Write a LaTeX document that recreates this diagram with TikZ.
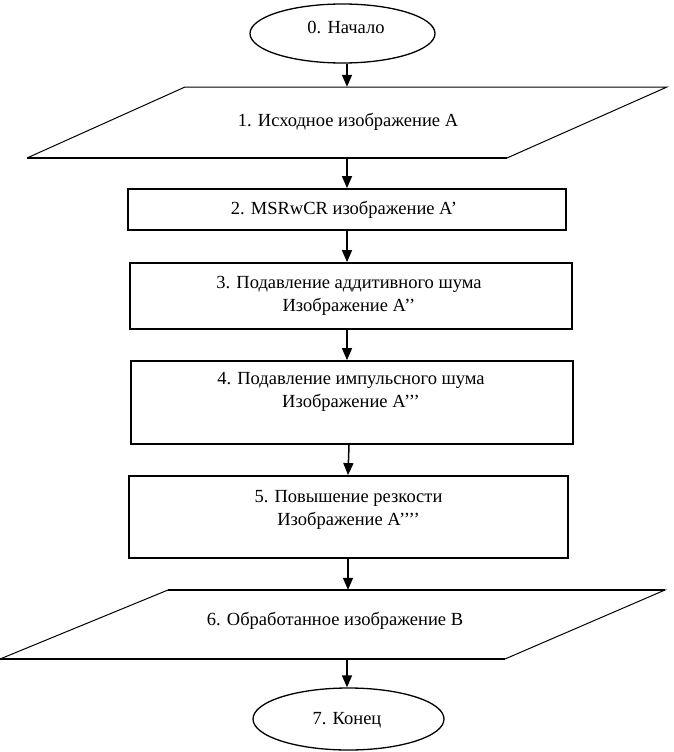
\documentclass[tikz,border=0pt]{standalone}
\usepackage{fontspec}
\setmainfont{Liberation Serif}
\usetikzlibrary{shapes.geometric,arrows.meta}
\tikzset{
  x=1pt,y=-1pt,
  txt/.style={font=\fontsize{18.5}{23}\selectfont, align=center, inner sep=0pt},
  term/.style={ellipse, draw, line width=1.3pt, inner sep=0pt, txt},
  procbox/.style={draw, line width=1.8pt, rectangle, inner sep=0pt, txt},
  ionode/.style={rectangle, inner sep=0pt, txt},
  flow/.style={line width=1.5pt, -{Triangle[length=12pt,width=10pt]}},
}
\begin{document}
\begin{tikzpicture}
\useasboundingbox (0,0) rectangle (673,752);
% 0
\node[term, minimum width=185, minimum height=59] (n0) at (342.5,33.5) {};
\node[txt] at (346,27) {0. Начало};
% 1
\node[ionode, minimum width=480, minimum height=71] (n1) at (347,122.5) {};
\node[txt] at (348,122) {1. Исходное изображение А};
\draw[line width=1pt] (27,158) -- (185,87) -- (667,87) -- (507,158);
\draw[line width=1.8pt] (27,158) -- (507,158);
% 2
\node[procbox, minimum width=438, minimum height=41] (n2) at (347,209.5) {};
\node[txt] at (344,210) {2. MSRwCR изображение А’};
% 3
\node[procbox, minimum width=442, minimum height=66] (n3) at (351,296) {};
\node[txt, anchor=north] at (n3.north) [yshift=-14pt,xshift=-2pt] {3. Подавление аддитивного шума\\Изображение А’’};
% 4
\node[procbox, minimum width=442, minimum height=83] (n4) at (352,402.5) {};
\node[txt, anchor=north] at (n4.north) [yshift=-12pt,xshift=-1pt] {4. Подавление импульсного шума\\Изображение А’’’};
% 5
\node[procbox, minimum width=439, minimum height=82] (n5) at (348.5,517) {};
\node[txt, anchor=north] at (n5.north) [yshift=-15pt] {5. Повышение резкости\\Изображение А’’’’};
% 6
\node[ionode, minimum width=490, minimum height=69] (n6) at (335,624.5) {};
\node[txt] at (335,621) {6. Обработанное изображение В};
\draw[line width=1pt] (0,659) -- (168,590) -- (665,590) -- (505,659);
\draw[line width=1.8pt] (0,659) -- (505,659);
\draw[line width=1.8pt] (168,590) -- (665,590);
% 7
\node[term, minimum width=191, minimum height=62] (n7) at (348.5,719) {};
\node[txt] at (347,720) {7. Конец};
% connectors
\draw[flow] (n0.south -| 347,0) -- (n1.north -| 347,0);
\draw[flow] (n1.south -| 347,0) -- (n2.north -| 347,0);
\draw[flow] (n2.south -| 347,0) -- (n3.north -| 347,0);
\draw[flow] (n3.south -| 347,0) -- (n4.north -| 347,0);
\draw[flow] (n4.south -| 349,0) -- (n5.north -| 348,0);
\draw[flow] (n5.south -| 348,0) -- (n6.north -| 348,0);
\draw[flow] (n6.south -| 347,0) -- (n7.north -| 347,0);
\end{tikzpicture}
\end{document}
